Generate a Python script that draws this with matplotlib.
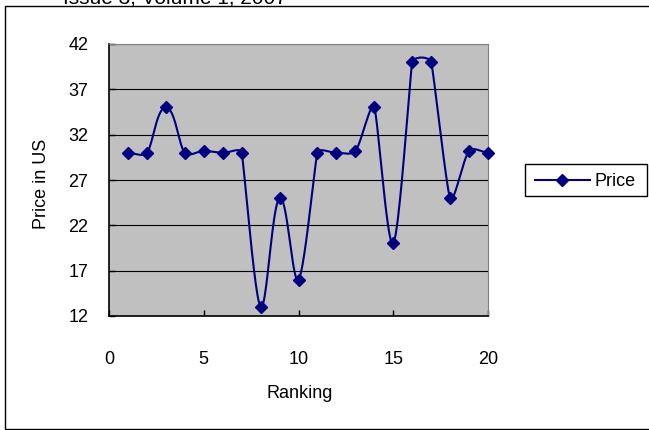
import numpy as np
import matplotlib
matplotlib.use("Agg")
import matplotlib.pyplot as plt
from matplotlib.patches import Rectangle
from matplotlib.lines import Line2D

plt.rcParams['font.family'] = ['Liberation Sans', 'DejaVu Sans']

ranking = list(range(1, 21))
price = [30, 30, 35, 30, 30.2, 30, 30, 13, 25, 16,
         30, 30, 30.2, 35, 20, 40, 40, 25, 30.2, 30]
x_ticks = [0, 5, 10, 15, 20]
y_ticks = [12, 17, 22, 27, 32, 37, 42]
series_name = "Price"

W, H = 649, 430
fig = plt.figure(figsize=(W / 100, H / 100), dpi=100)

# chart area border
fig.patches.append(Rectangle((5 / W, 1 - 429 / H), 660 / W, 423 / H,
                             transform=fig.transFigure, fill=False,
                             edgecolor='black', linewidth=1.0))
fig.text(63 / W, 1 - 3 / H, "Issue 3, Volume 1, 2007", fontsize=15,
         va='baseline', ha='left', color='black')

ax_l, ax_r, ax_t, ax_b = 109, 488, 44, 316
ax = fig.add_axes([ax_l / W, 1 - ax_b / H, (ax_r - ax_l) / W, (ax_b - ax_t) / H])
ax.set_facecolor('#c0c0c0')
ax.set_xlim(0, 20)
ax.set_ylim(12, 42)
ax.set_xticks(x_ticks)
ax.set_yticks(y_ticks)
ax.yaxis.grid(True, color='black', linewidth=0.8)
ax.set_axisbelow(True)
for s in ('top', 'right'):
    ax.spines[s].set_color('#808080')
for s in ('left', 'bottom'):
    ax.spines[s].set_color('black')
    ax.spines[s].set_linewidth(1.2)
ax.tick_params(axis='both', direction='in', length=4, labelsize=13, width=1)
ax.tick_params(axis='x', pad=25)
ax.tick_params(axis='y', pad=15)

# smoothed line: cubic Bezier segments in pixel space, with tangent arms
# limited in length so long steep segments stay nearly straight
px = (ax_r - ax_l) / 20.0
py = (ax_b - ax_t) / 30.0
P = np.column_stack([np.array(ranking, float) * px, np.array(price, float) * py])
n = len(P)
tang = []
for i in range(n):
    a = P[i - 1] if i > 0 else P[i]
    b = P[i + 1] if i + 1 < n else P[i]
    d = b - a
    tang.append(d / np.linalg.norm(d))
arm_cap = 0.5 * px
curve = []
t = np.linspace(0, 1, 40)[:, None]
for i in range(n - 1):
    p1, p2 = P[i], P[i + 1]
    arm = min(np.linalg.norm(p2 - p1) / 3.0, arm_cap)
    c1 = p1 + tang[i] * arm
    c2 = p2 - tang[i + 1] * arm
    seg = ((1 - t) ** 3) * p1 + 3 * ((1 - t) ** 2) * t * c1 + 3 * (1 - t) * t ** 2 * c2 + t ** 3 * p2
    curve.append(seg if i == 0 else seg[1:])
curve = np.vstack(curve)
navy = '#000080'
ax.plot(curve[:, 0] / px, curve[:, 1] / py, color=navy, linewidth=1.5, clip_on=False)
ax.plot(ranking, price, linestyle='none', marker='D', markersize=6.5,
        color=navy, clip_on=False, zorder=5)

ax.set_xlabel("Ranking", fontsize=13)
ax.xaxis.set_label_coords((300 - ax_l) / (ax_r - ax_l), -(393 - ax_b) / (ax_b - ax_t))
ax.xaxis.label.set_va('center')
ax.set_ylabel("Price in US", fontsize=13)
ax.yaxis.set_label_coords(-(ax_l - 41) / (ax_r - ax_l), (ax_b - 184) / (ax_b - ax_t))
ax.yaxis.label.set_va('center')

# legend box
fig.patches.append(Rectangle((525 / W, 1 - 196 / H), 122 / W, 32 / H,
                             transform=fig.transFigure, fill=False,
                             edgecolor='black', linewidth=1.0))
fig.lines.append(Line2D([535 / W, 590 / W], [1 - 180 / H, 1 - 180 / H],
                        transform=fig.transFigure, color=navy, linewidth=1.5))
fig.lines.append(Line2D([562 / W], [1 - 180 / H], transform=fig.transFigure,
                        marker='D', markersize=6.5, color=navy))
fig.text(595 / W, 1 - 181 / H, series_name, fontsize=13, va='center', ha='left')

fig.savefig("out.png", dpi=100)
